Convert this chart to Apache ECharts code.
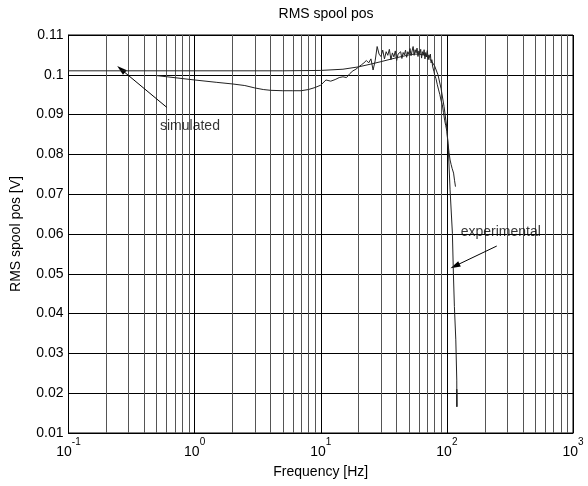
<!DOCTYPE html>
<html>
<head>
<meta charset="utf-8">
<script src="https://cdn.jsdelivr.net/npm/echarts@6/dist/echarts.min.js"></script>
<style>html,body{margin:0;padding:0;background:#fff}#c{width:588px;height:486px}</style>
</head>
<body>
<div id="c"></div>
<script>
// ---- data ----
var simFreq = [0.1, 1, 5, 10, 15, 20, 25, 30, 40, 50, 55, 60, 65, 70, 75, 80, 85, 90, 95, 100, 102.8, 106, 110.6, 112.6, 114.7, 117.7, 119.8, 120, 119.8, 120];
var simVal  = [0.1010, 0.1010, 0.1010, 0.1011, 0.1014, 0.1020, 0.1027, 0.1033, 0.1043, 0.1050, 0.1052, 0.1052, 0.1050, 0.1045, 0.1036, 0.1022, 0.1000, 0.0965, 0.0920, 0.0866, 0.0811, 0.0711, 0.0602, 0.0502, 0.0418, 0.0334, 0.0233, 0.0166, 0.0210, 0.0166];

var expFreq = [0.5, 1, 1.5, 2, 2.5, 3, 3.5, 4, 5, 6, 7, 8, 9, 10, 11, 12, 13, 14, 15, 16, 17, 18, 19, 20, 21, 22, 23, 24, 25, 26, 27, 28,
  29, 30, 31, 32, 33, 34, 35, 36, 37, 38, 39, 40, 41, 42, 43, 44, 45, 46, 47, 48, 49, 50, 51, 52, 53, 54, 55, 56, 57, 58, 59, 60,
  61, 62, 63, 64, 65, 66, 67, 68, 69, 70, 71, 72, 73, 74, 75, 76, 77, 78, 79, 80,
  82, 84, 86, 88, 90, 92, 94, 96, 98, 100, 102, 104, 106, 108, 110, 113, 115, 117];
var expVal = [0.0998, 0.0987, 0.0981, 0.0977, 0.0973, 0.0967, 0.0963, 0.0961, 0.0960, 0.0960, 0.0960, 0.0963, 0.0968, 0.0974, 0.0987, 0.0984, 0.0988, 0.0993, 0.0995, 0.0993, 0.1003, 0.1010, 0.1014, 0.1020, 0.1025, 0.1030, 0.1036, 0.1030, 0.1040, 0.1012, 0.1035, 0.1071,
  0.1052, 0.1046, 0.1062, 0.1040, 0.1058, 0.1049, 0.1064, 0.1038, 0.1055, 0.1045, 0.1060, 0.1036, 0.1052, 0.1048, 0.1058, 0.1041, 0.1056, 0.1050, 0.1062, 0.1044, 0.1058, 0.1052, 0.1066, 0.1048, 0.1060, 0.1071, 0.1049, 0.1063, 0.1055, 0.1067, 0.1046, 0.1060,
  0.1053, 0.1064, 0.1042, 0.1058, 0.1050, 0.1063, 0.1040, 0.1056, 0.1047, 0.1061, 0.1038, 0.1050, 0.1043, 0.1052, 0.1030, 0.1038, 0.1022, 0.1020, 0.1008, 0.1000,
  0.0990, 0.0975, 0.0962, 0.0950, 0.0935, 0.0925, 0.0905, 0.0886, 0.0872, 0.0858, 0.0828, 0.0805, 0.0786, 0.0775, 0.0765, 0.0753, 0.0735, 0.0719];

var annoText = ['simulated', 'experimental'];
var annoTextPos = [[0.5316, 0.08714], [128.8, 0.0605]];
var arrowFrom = [[0.601, 0.09183], [248.7, 0.05698]];
var arrowTo   = [[0.261, 0.10138], [116, 0.05196]];

var xMin = 0.1, xMax = 1000, yMin = 0.01, yMax = 0.11, yStep = 0.01;

// ---- chart ----
var FONT = 'Liberation Sans, Arial, Helvetica, sans-serif';
function zip(a, b) { return a.map(function (v, i) { return [v, b[i]]; }); }

var minorLines = [];
for (var n = -1; n <= 2; n++) {
  for (var k = 2; k <= 9; k++) minorLines.push({ xAxis: k * Math.pow(10, n) });
}

var arrows = arrowFrom.map(function (p, i) {
  return [{ coord: p }, { coord: arrowTo[i] }];
});

var chart = echarts.init(document.getElementById('c'), null, { renderer: 'canvas' });
chart.setOption({
  animation: false,
  backgroundColor: '#fff',
  textStyle: { fontFamily: FONT },
  title: {
    text: 'RMS spool pos', left: 321, top: 2, textAlign: 'center',
    textStyle: { fontFamily: FONT, fontSize: 14, fontWeight: 'normal', color: '#000' }
  },
  grid: { left: 68.5, right: 15, top: 35, bottom: 53, show: true, borderColor: '#000', borderWidth: 1, backgroundColor: 'transparent' },
  xAxis: {
    type: 'log', logBase: 10, min: xMin, max: xMax,
    name: 'Frequency [Hz]', nameLocation: 'middle', nameGap: 32,
    nameTextStyle: { fontFamily: FONT, fontSize: 14, color: '#000' },
    axisLine: { lineStyle: { color: '#000' } },
    axisTick: { show: false },
    splitLine: { show: true, lineStyle: { color: '#000', width: 1 } },
    axisLabel: {
      margin: 4, color: '#000',
      formatter: function (v) { return '{b|10}{s|' + Math.round(Math.log10(v)) + '}'; },
      rich: {
        b: { fontFamily: FONT, fontSize: 14, lineHeight: 22, verticalAlign: 'bottom', color: '#000' },
        s: { fontFamily: FONT, fontSize: 10, lineHeight: 16, verticalAlign: 'top', color: '#000' }
      }
    }
  },
  yAxis: {
    type: 'value', min: yMin, max: yMax, interval: yStep,
    name: 'RMS spool pos [V]', nameLocation: 'middle', nameGap: 45,
    nameTextStyle: { fontFamily: FONT, fontSize: 14, color: '#000' },
    axisLine: { show: true, lineStyle: { color: '#000' } },
    axisTick: { show: false },
    splitLine: { show: true, lineStyle: { color: '#000', width: 1 } },
    axisLabel: {
      margin: 5, color: '#000', fontFamily: FONT, fontSize: 14,
      formatter: function (v) { return String(+v.toFixed(2)); }
    }
  },
  series: [
    {
      type: 'line', data: [], silent: true,
      markLine: {
        silent: true, symbol: ['none', 'none'], label: { show: false },
        lineStyle: { color: '#555', width: 1, type: 'solid' },
        data: minorLines
      }
    },
    {
      name: 'simulated', type: 'line', data: zip(simFreq, simVal), showSymbol: false, symbol: 'none',
      lineStyle: { color: '#222', width: 1 }, z: 5
    },
    {
      name: 'experimental', type: 'line', data: zip(expFreq, expVal), showSymbol: false, symbol: 'none',
      lineStyle: { color: '#222', width: 1 }, z: 5
    },
    {
      type: 'line', data: [], silent: true, z: 6,
      markLine: {
        silent: true, symbol: ['none', 'triangle'], symbolSize: [6, 10], label: { show: false },
        lineStyle: { color: '#000', width: 1, type: 'solid' },
        data: arrows
      }
    },
    {
      type: 'scatter', symbolSize: 0, silent: true, z: 7,
      data: annoTextPos.map(function (p, i) { return { value: p, name: annoText[i] }; }),
      label: {
        show: true, position: 'right', distance: 0, formatter: '{b}',
        fontFamily: FONT, fontSize: 14, color: '#000'
      }
    }
  ]
});
</script>
</body>
</html>
